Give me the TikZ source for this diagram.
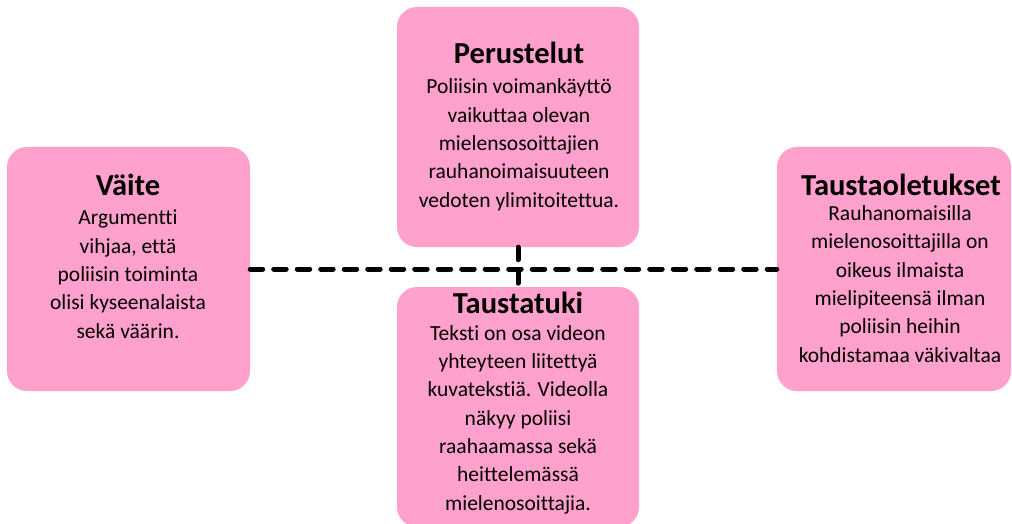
\documentclass[tikz,border=0pt]{standalone}
\usepackage{fontspec}
\setmainfont{Carlito}[Ligatures=NoCommon]
\usetikzlibrary{positioning}
\definecolor{candypink}{RGB}{255,161,204}

\begin{document}
\begin{tikzpicture}[x=1pt, y=-1pt, line cap=round, line join=round,
	box/.style={fill=candypink, rounded corners=20pt, inner sep=0pt},
	link/.style={line width=5pt, dash pattern=on 12.5pt off 11pt},
	head/.style={font=\fontsize{30.5}{36}\selectfont\bfseries, inner sep=0pt, anchor=base},
	body/.style={font=\fontsize{21.5}{28.3}\selectfont, align=center, inner sep=0pt, anchor=base}]
	\useasboundingbox (0,0) rectangle (1012,524);
	\clip (0,0) rectangle (1012,524);

	% the four boxes
	\node[box, minimum width=243pt, minimum height=244pt] (vaite) at (128.5,269) {};
	\node[box, minimum width=242pt, minimum height=240pt] (perustelut) at (518,127) {};
	\node[box, minimum width=242pt, minimum height=240pt] (taustatuki) at (518,407) {};
	\node[box, minimum width=234pt, minimum height=244pt] (oletukset) at (894,269) {};

	% dashed links between the boxes
	\draw[link] (vaite) -- (oletukset);
	\draw[link] (perustelut) -- (taustatuki);

	% texts (body nodes sit on the baseline of their last line)
	\node[head] (vaiteH) at (128,195) {Väite};
	\node[body] (vaiteB) at (128,338) {Argumentti\\vihjaa, että\\poliisin toiminta\\olisi kyseenalaista\\sekä väärin.};

	\node[head] (perustelutH) at (519,64) {Perustelut};
	\node[body] (perustelutB) at (519,207) {Poliisin voimankäyttö\\vaikuttaa olevan\\mielensosoittajien\\rauhanoimaisuuteen\\vedoten ylimitoitettua.};

	\node[head] (taustatukiH) at (518,313) {Taustatuki};
	\node[body] (taustatukiB) at (518,510) {Teksti on osa videon\\yhteyteen liitettyä\\kuvatekstiä. Videolla\\näkyy poliisi\\raahaamassa sekä\\heittelemässä\\mielenosoittajia.};

	\node[head] (oletuksetH) at (901,195) {Taustaoletukset};
	\node[body] (oletuksetB) at (900,362) {Rauhanomaisilla\\mielenosoittajilla on\\oikeus ilmaista\\mielipiteensä ilman\\poliisin heihin\\kohdistamaa väkivaltaa};
\end{tikzpicture}
\end{document}
